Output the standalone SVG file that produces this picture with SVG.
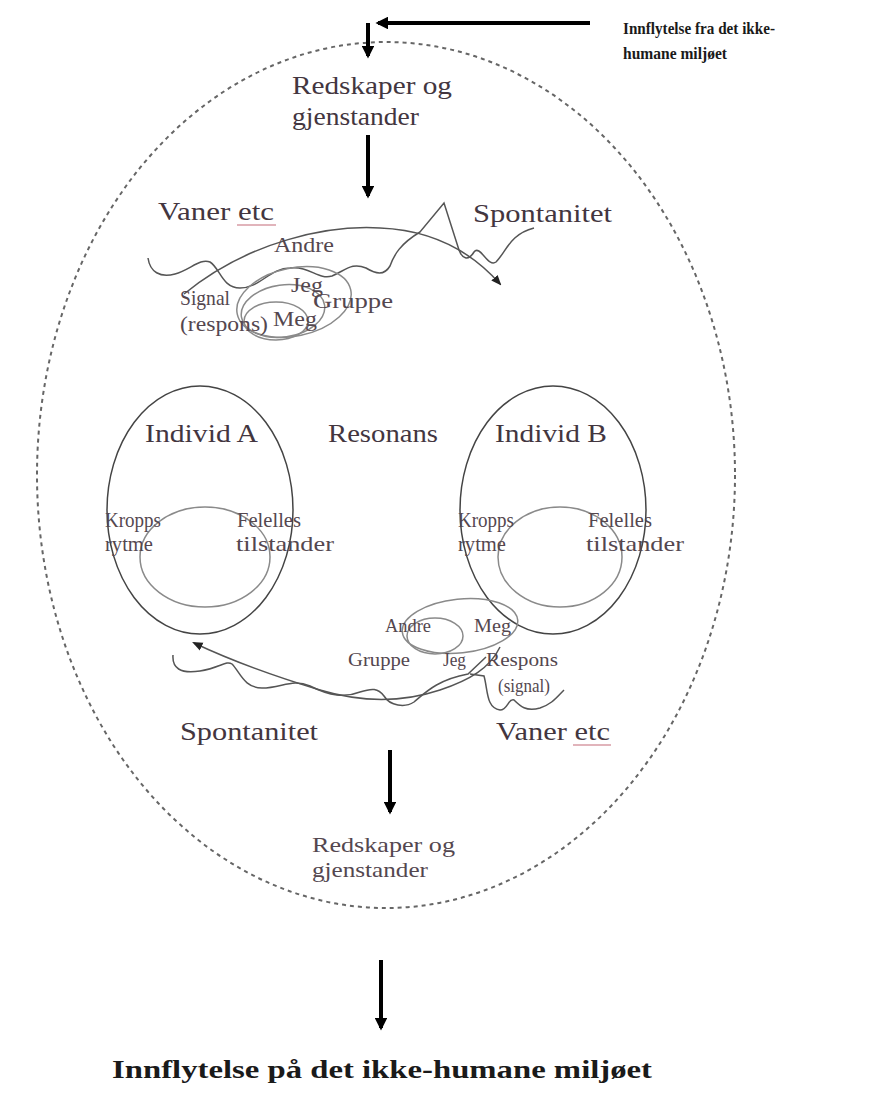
<svg xmlns="http://www.w3.org/2000/svg" width="875" height="1099" viewBox="0 0 875 1099">
  <defs>
    <style>
      text { font-family: "Liberation Serif", "Times New Roman", serif; }
      .lbl { fill: #43363f; font-size: 26px; }
      .sm { fill: #54474f; font-size: 21px; }
      .xs { fill: #54474f; font-size: 19px; }
      .bold { font-weight: bold; fill: #1a1a1a; }
      .flow { stroke: #000; stroke-width: 4; fill: none; }
      .thin { stroke: #555; stroke-width: 1.5; fill: none; }
      .ring { stroke: #8a8a8a; stroke-width: 1.5; fill: none; }
      .body { stroke: #444; stroke-width: 1.5; fill: none; }
      .spell { stroke: #c46a78; stroke-width: 1.2; fill: none; }
    </style>
    <marker id="ah" viewBox="0 0 10 10" refX="8" refY="5" markerWidth="3.2" markerHeight="3.2" orient="auto">
      <path d="M0,0 L10,5 L0,10 z" fill="#000"/>
    </marker>
    <marker id="sah" viewBox="0 0 10 10" refX="8" refY="5" markerWidth="7" markerHeight="7" orient="auto">
      <path d="M0,1 L10,5 L0,9 z" fill="#222"/>
    </marker>
  </defs>

  <rect width="875" height="1099" fill="#fff"/>

  <!-- shared boundary -->
  <g id="boundary">
    <ellipse cx="386" cy="475" rx="349" ry="433" fill="none" stroke="#666" stroke-width="2" stroke-dasharray="4,4"/>
  </g>

  <g id="connectors">
    <!-- influence in from the right -->
    <path class="flow" d="M590,23 L378,23" marker-end="url(#ah)"/>
    <path class="flow" d="M368,23 L368,56" marker-end="url(#ah)"/>
    <!-- tools down into the tangle -->
    <path class="flow" d="M368,135 L368,196" marker-end="url(#ah)"/>
    <!-- down to the lower tools -->
    <path class="flow" d="M390,750 L390,812" marker-end="url(#ah)"/>
    <!-- influence out -->
    <path class="flow" d="M381,960 L381,1028" marker-end="url(#ah)"/>
  </g>

  <g id="top-influence">
    <text class="bold" x="623" y="34" font-size="16" textLength="152" lengthAdjust="spacingAndGlyphs">Innflytelse fra det ikke-</text>
    <text class="bold" x="623" y="59" font-size="16" textLength="104" lengthAdjust="spacingAndGlyphs">humane miljøet</text>
  </g>

  <g id="top-tools">
    <text class="lbl" x="292" y="94" font-size="27" textLength="160" lengthAdjust="spacingAndGlyphs">Redskaper og</text>
    <text class="lbl" x="292" y="125" font-size="27" textLength="127" lengthAdjust="spacingAndGlyphs">gjenstander</text>
  </g>

  <!-- upper tangle: habits, spontaneity, self and others -->
  <g id="upper-tangle">
    <text class="lbl" x="158" y="220" textLength="116" lengthAdjust="spacingAndGlyphs">Vaner etc</text>
    <path class="spell" d="M237,225 L276,225"/>
    <text class="lbl" x="473" y="222" textLength="139" lengthAdjust="spacingAndGlyphs">Spontanitet</text>
    <path class="thin" d="M184,294 C250,240 330,225 380,228 C430,230 470,250 500,284" marker-end="url(#sah)"/>
    <path class="thin" d="M148,258 C150,272 160,278 175,274 C190,270 200,258 210,262 C220,268 222,288 240,288 C260,288 270,268 290,268 C310,266 318,280 332,276 C346,270 352,262 366,268 C376,274 384,276 390,266 C394,255 400,244 420,232 L444,203 L459,250 C462,258 468,262 474,252 C480,244 488,268 496,262 C506,252 510,234 534,228"/>
    <ellipse class="ring" cx="294" cy="302" rx="58" ry="34" transform="rotate(-12 294 302)"/>
    <ellipse class="ring" cx="283" cy="311" rx="42" ry="26" transform="rotate(-8 283 311)"/>
    <ellipse class="ring" cx="276" cy="321" rx="32" ry="19"/>
    <text class="sm" x="274" y="252" textLength="60" lengthAdjust="spacingAndGlyphs">Andre</text>
    <text class="sm" x="291" y="292" textLength="32" lengthAdjust="spacingAndGlyphs">Jeg</text>
    <text class="sm" x="313" y="308" textLength="80" lengthAdjust="spacingAndGlyphs">Gruppe</text>
    <text class="sm" x="180" y="305" textLength="50" lengthAdjust="spacingAndGlyphs">Signal</text>
    <text class="sm" x="180" y="331" textLength="88" lengthAdjust="spacingAndGlyphs">(respons)</text>
    <text class="sm" x="273" y="326" textLength="44" lengthAdjust="spacingAndGlyphs">Meg</text>
  </g>

  <g id="resonans">
    <text class="lbl" x="328" y="442" textLength="110" lengthAdjust="spacingAndGlyphs">Resonans</text>
  </g>

  <g id="individ-a">
    <ellipse class="body" cx="200" cy="510" rx="93" ry="124"/>
    <ellipse class="ring" cx="205" cy="557" rx="65" ry="50"/>
    <text class="lbl" x="145" y="442" textLength="113" lengthAdjust="spacingAndGlyphs">Individ A</text>
    <text class="sm" x="105" y="527" textLength="56" lengthAdjust="spacingAndGlyphs">Kropps</text>
    <text class="sm" x="105" y="551" textLength="48" lengthAdjust="spacingAndGlyphs">rytme</text>
    <text class="sm" x="237" y="527" textLength="64" lengthAdjust="spacingAndGlyphs">Felelles</text>
    <text class="sm" x="236" y="551" textLength="98" lengthAdjust="spacingAndGlyphs">tilstander</text>
  </g>

  <g id="individ-b">
    <ellipse class="body" cx="553" cy="510" rx="93" ry="124"/>
    <ellipse class="ring" cx="560" cy="557" rx="62" ry="50"/>
    <text class="lbl" x="495" y="442" textLength="112" lengthAdjust="spacingAndGlyphs">Individ B</text>
    <text class="sm" x="458" y="527" textLength="56" lengthAdjust="spacingAndGlyphs">Kropps</text>
    <text class="sm" x="458" y="551" textLength="48" lengthAdjust="spacingAndGlyphs">rytme</text>
    <text class="sm" x="588" y="527" textLength="64" lengthAdjust="spacingAndGlyphs">Felelles</text>
    <text class="sm" x="586" y="551" textLength="98" lengthAdjust="spacingAndGlyphs">tilstander</text>
  </g>

  <!-- lower tangle, mirrored -->
  <g id="lower-tangle">
    <path class="thin" d="M500,647 C490,668 470,680 440,690 C410,700 370,705 320,690 C270,675 230,660 194,643" marker-end="url(#sah)"/>
    <path class="thin" d="M173,655 C172,668 180,674 200,671 C220,668 226,660 232,664 C240,672 244,688 262,688 C282,688 292,678 310,686 C330,696 345,698 360,692 C372,688 378,688 384,696 C390,706 405,708 414,702 C424,694 436,680 468,674 L486,657 M470,674 L484,676 C488,690 486,708 500,710 C508,710 508,698 514,700 C520,706 526,712 540,708 C552,704 556,698 564,690"/>
    <ellipse class="ring" cx="460" cy="626" rx="58" ry="27" transform="rotate(-6 460 626)"/>
    <ellipse class="ring" cx="435" cy="636" rx="28" ry="18"/>
    <text class="xs" x="385" y="632" textLength="46" lengthAdjust="spacingAndGlyphs">Andre</text>
    <text class="xs" x="474" y="632" textLength="37" lengthAdjust="spacingAndGlyphs">Meg</text>
    <text class="xs" x="348" y="666" textLength="62" lengthAdjust="spacingAndGlyphs">Gruppe</text>
    <text class="xs" x="443" y="666" textLength="23" lengthAdjust="spacingAndGlyphs">Jeg</text>
    <text class="xs" x="486" y="666" textLength="72" lengthAdjust="spacingAndGlyphs">Respons</text>
    <text class="xs" x="498" y="692" textLength="52" lengthAdjust="spacingAndGlyphs">(signal)</text>
    <text class="lbl" x="180" y="740" textLength="138" lengthAdjust="spacingAndGlyphs">Spontanitet</text>
    <text class="lbl" x="496" y="740" textLength="114" lengthAdjust="spacingAndGlyphs">Vaner etc</text>
    <path class="spell" d="M573,745 L611,745"/>
  </g>

  <g id="bottom-tools">
    <text class="sm" x="312" y="852" textLength="143" lengthAdjust="spacingAndGlyphs">Redskaper og</text>
    <text class="sm" x="312" y="877" textLength="116" lengthAdjust="spacingAndGlyphs">gjenstander</text>
  </g>

  <g id="bottom-influence">
    <text class="bold" x="112" y="1078" font-size="25" textLength="540" lengthAdjust="spacingAndGlyphs">Innflytelse på det ikke-humane miljøet</text>
  </g>
</svg>
